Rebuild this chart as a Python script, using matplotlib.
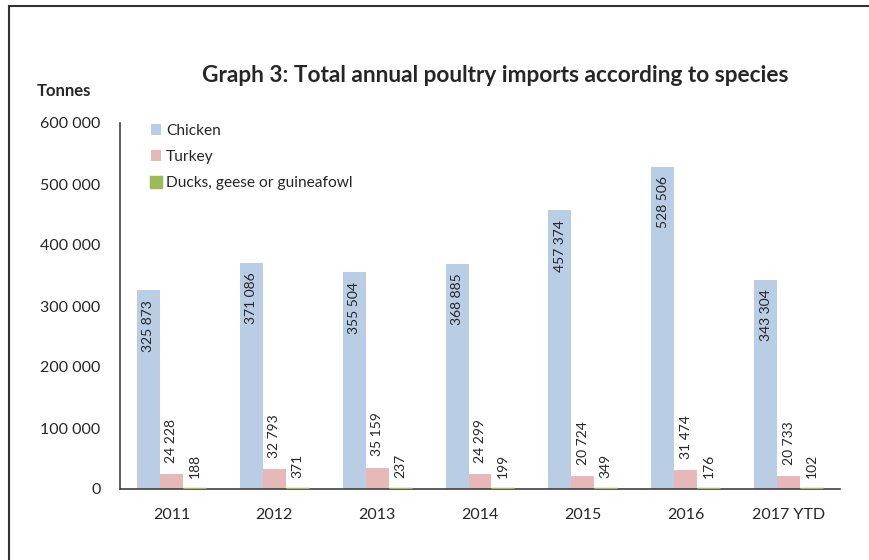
import numpy as np
import matplotlib.pyplot as plt
from matplotlib.lines import Line2D

plt.rcParams['font.family'] = ['Lato', 'DejaVu Sans']

# Annual poultry imports (tonnes)
years = ['2011', '2012', '2013', '2014', '2015', '2016', '2017 YTD']
chicken = [325873, 371086, 355504, 368885, 457374, 528506, 343304]
turkey = [24228, 32793, 35159, 24299, 20724, 31474, 20733]
ducks = [188, 371, 237, 199, 349, 176, 102]

text_col = '#262626'
c_chicken = '#B9CDE5'
c_turkey = '#E6B9B8'
c_ducks = '#9BBB59'


def fmt(v):
    return f"{v:,}".replace(",", " ")


fig = plt.figure(figsize=(8.69, 5.6), dpi=100)
ax = fig.add_axes([120 / 869, 71 / 560, 720 / 869, 366 / 560])

x = np.arange(len(years))
w = 0.223
ax.bar(x - w, chicken, w, color=c_chicken, label='Chicken')
ax.bar(x, turkey, w, color=c_turkey, label='Turkey')
ax.bar(x + w, ducks, w, color=c_ducks, edgecolor=c_ducks, linewidth=2.5,
       zorder=3, label='Ducks, geese or guineafowl')

# value labels, rotated
for xi, v in zip(x, chicken):
    ax.annotate(fmt(v), (xi - w, v), xytext=(0, -7), textcoords='offset points',
                rotation=90, ha='center', va='top', fontsize=10, color=text_col)
for xi, v in zip(x, turkey):
    ax.annotate(fmt(v), (xi, v), xytext=(0, 8), textcoords='offset points',
                rotation=90, ha='center', va='bottom', fontsize=10, color=text_col)
for xi, v in zip(x, ducks):
    ax.annotate(fmt(v), (xi + w, v), xytext=(0, 8), textcoords='offset points',
                rotation=90, ha='center', va='bottom', fontsize=10, color=text_col)

ax.set_xlim(-0.5, len(years) - 0.5)
ax.set_ylim(0, 600000)
ax.set_yticks(np.arange(0, 600001, 100000))
ax.set_yticklabels([fmt(int(t)) for t in np.arange(0, 600001, 100000)])
ax.set_xticks(x)
ax.set_xticklabels(years)
ax.tick_params(axis='both', length=0, labelsize=11.5, colors=text_col)
ax.tick_params(axis='y', pad=14)
ax.tick_params(axis='x', pad=14)

for s in ['top', 'right']:
    ax.spines[s].set_visible(False)
for s in ['left', 'bottom']:
    ax.spines[s].set_color('#404040')
    ax.spines[s].set_linewidth(1.2)

ax.legend(loc='upper left', bbox_to_anchor=(0.023, 1.035), frameon=False,
          fontsize=11.2, handlelength=0.7, handleheight=0.7, handletextpad=0.3,
          labelspacing=0.78, labelcolor=text_col)

fig.text(495 / 869, 1 - 76 / 560, 'Graph 3: Total annual poultry imports according to species',
         ha='center', va='center', fontsize=16.3, fontweight='bold', color=text_col)
fig.text(37 / 869, 1 - 91 / 560, 'Tonnes', ha='left', va='center',
         fontsize=12, fontweight='bold', color=text_col)

# outer frame (left and top edges)
fig.add_artist(Line2D([9 / 869, 9 / 869], [0, 1 - 6 / 560], color='#333333', lw=1.5))
fig.add_artist(Line2D([9 / 869, 1], [1 - 6 / 560, 1 - 6 / 560], color='#333333', lw=1.5))

fig.savefig('out.png', dpi=100)
